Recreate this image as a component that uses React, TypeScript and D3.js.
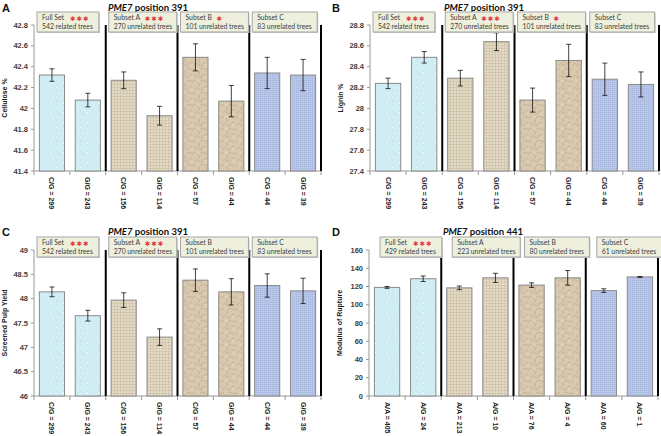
import React from 'react';
import * as d3 from 'd3';

const groupNames = ['Full Set', 'Subset A', 'Subset B', 'Subset C'];

const cellTicks = [41.4, 41.6, 41.8, 42, 42.2, 42.4, 42.6, 42.8];
const cgCats = ['C/G = 299', 'G/G = 243', 'C/G = 156', 'G/G = 114', 'C/G = 57', 'G/G = 44', 'C/G = 44', 'G/G = 39'];
const cellulose = [42.32, 42.08, 42.27, 41.93, 42.49, 42.07, 42.34, 42.32];
const celluloseErr = [0.06, 0.065, 0.08, 0.09, 0.13, 0.15, 0.15, 0.15];
const sets391 = ['542 related trees', '270 unrelated trees', '101 unrelated trees', '83 unrelated trees'];
const stars391 = [3, 3, 1, 0];

const ligninTicks = [27.4, 27.6, 27.8, 28, 28.2, 28.4, 28.6, 28.8];
const lignin = [28.24, 28.49, 28.29, 28.64, 28.08, 28.46, 28.28, 28.23];
const ligninErr = [0.05, 0.055, 0.075, 0.085, 0.115, 0.155, 0.155, 0.12];

const pulpTicks = [46, 46.5, 47, 47.5, 48, 48.5, 49];
const pulp = [48.14, 47.65, 47.97, 47.21, 48.38, 48.14, 48.27, 48.16];
const pulpErr = [0.1, 0.11, 0.15, 0.17, 0.23, 0.27, 0.24, 0.26];
const starsPulp = [3, 3, 0, 0];

const morTicks = [0, 20, 40, 60, 80, 100, 120, 140, 160];
const agCats = ['A/A = 405', 'A/G = 24', 'A/A = 213', 'A/G = 10', 'A/A = 76', 'A/G = 4', 'A/A = 60', 'A/G = 1'];
const mor = [119, 128.5, 118.5, 129.5, 121.5, 129.5, 115.5, 130.5];
const morErr = [1, 3, 2, 5, 2.5, 8, 2, 0.5];
const sets441 = ['429 related trees', '223 unrelated trees', '80 unrelated trees', '61 unrelated trees'];
const stars441 = [3, 0, 0, 0];

const FONT = '"Liberation Sans", Arial, sans-serif';
const BOXFONT = 'Lato, "Open Sans", sans-serif';
const patterns = ['pDrops', 'pBurlap', 'pPaper', 'pDenim'];

type PanelProps = {
  letter: string; ox: number; oy: number; x0: number; x1: number; top: number; bottom: number;
  ticks: number[]; values: number[]; errs: number[]; cats: string[]; sets: string[]; stars: number[];
  title: string; ylabel: string; boxInset: number;
};

function Panel(p: PanelProps) {
  const y = d3.scaleLinear().domain([p.ticks[0], p.ticks[p.ticks.length - 1]]).range([p.bottom, p.top]);
  const x = d3.scaleBand<number>().domain(p.values.map((_, i) => i)).range([p.x0, p.x1]).paddingInner(0.3).paddingOuter(0.15);
  const step = x.step();
  const bw = x.bandwidth();
  const boxTop = p.top - 13;
  return (
    <g>
      <text x={p.ox + 2} y={p.oy + 12} fontFamily={FONT} fontWeight="bold" fontSize={11} fill="#111">{p.letter}</text>
      <text x={p.x0 + 114} y={p.oy + 11} textAnchor="middle" fontFamily={BOXFONT} fontWeight="bold" fontSize={9.5} fill="#111">
        <tspan fontStyle="italic">PME7</tspan> {p.title}
      </text>
      {/* y axis */}
      <line x1={p.x0} x2={p.x0} y1={p.top} y2={p.bottom} stroke="#999" strokeWidth={1} />
      {p.ticks.map((t, i) => (
        <g key={i}>
          <line x1={p.x0 - 3} x2={p.x0} y1={y(t)} y2={y(t)} stroke="#999" />
          <text x={p.x0 - 6} y={y(t)} dy="0.35em" textAnchor="end" fontFamily={FONT} fontWeight="bold" fontSize={7.5} fill="#404040">{String(t)}</text>
        </g>
      ))}
      <text transform={`translate(${p.x0 - 29},${(p.top + p.bottom) / 2}) rotate(-90)`} textAnchor="middle" dy="0.35em"
        fontFamily={FONT} fontWeight="bold" fontSize={7} fill="#222">{p.ylabel}</text>
      {/* x axis */}
      <line x1={p.x0} x2={p.x1} y1={p.bottom} y2={p.bottom} stroke="#999" />
      {d3.range(p.values.length + 1).map(i => (
        <line key={i} x1={p.x0 + i * step} x2={p.x0 + i * step} y1={p.bottom} y2={p.bottom + 4} stroke="#999" />
      ))}
      {/* bars */}
      {p.values.map((v, i) => (
        <rect key={i} x={x(i)!} y={y(v)} width={bw} height={p.bottom - y(v)}
          fill={`url(#${patterns[Math.floor(i / 2)]})`} stroke="#8a8a8a" strokeWidth={1} />
      ))}
      {/* error bars */}
      {p.values.map((v, i) => {
        const cx = x(i)! + bw / 2;
        const hi = y(v + p.errs[i]);
        const lo = y(v - p.errs[i]);
        return (
          <g key={i} stroke="#111" strokeWidth={0.8}>
            <line x1={cx} x2={cx} y1={hi} y2={lo} />
            <line x1={cx - 2.5} x2={cx + 2.5} y1={hi} y2={hi} />
            <line x1={cx - 2.5} x2={cx + 2.5} y1={lo} y2={lo} />
          </g>
        );
      })}
      {/* category labels */}
      {p.cats.map((c, i) => (
        <text key={i} transform={`translate(${x(i)! + bw / 2},${p.bottom + 6}) rotate(90)`} dy="0.35em"
          fontFamily={FONT} fontWeight="bold" fontSize={7} fill="#222">{c}</text>
      ))}
      {/* separators */}
      {d3.range(1, 5).map(g => (
        <line key={g} x1={p.x0 + g * 2 * step} x2={p.x0 + g * 2 * step} y1={p.top} y2={p.bottom} stroke="#000" strokeWidth={2} />
      ))}
      {/* group boxes */}
      {groupNames.map((gname, g) => {
        const bx = p.x0 + g * 2 * step + p.boxInset;
        const w = p.sets[g].length * 3.05 + 10;
        const labelW = gname === 'Full Set' ? 23 : 26;
        return (
          <g key={g}>
            <rect x={bx + 1} y={boxTop + 1} width={w} height={20} fill="#c8c8c8" />
            <rect x={bx} y={boxTop} width={w} height={20} fill="#eef0dd" stroke="#a5a5a5" strokeWidth={1} />
            <text x={bx + 5} y={boxTop + 8} fontFamily={BOXFONT} fontSize={6.8} fill="#404040">{gname}</text>
            {p.stars[g] > 0 && (
              <text x={bx + 5 + labelW + 5} y={boxTop + 8.5} fontFamily='"DejaVu Sans", sans-serif' fontSize={6.5}
                fill="#e0393b" letterSpacing={1}>{'✱'.repeat(p.stars[g])}</text>
            )}
            <text x={bx + 5} y={boxTop + 17} fontFamily={BOXFONT} fontSize={6.8} fill="#404040">{p.sets[g]}</text>
          </g>
        );
      })}
    </g>
  );
}

export default function App() {
  return (
    <svg width={661} height={436} style={{ position: 'absolute', left: 0, top: 0, background: '#fff' }}>
      <defs>
        <pattern id="pDrops" width={12} height={10} patternUnits="userSpaceOnUse">
          <rect width={12} height={10} fill="#d2eef5" />
          <circle cx={3} cy={3} r={1.8} fill="#e6f7fb" stroke="#b2dbe6" strokeWidth={0.5} />
          <circle cx={9} cy={7.5} r={1.4} fill="#e6f7fb" stroke="#b2dbe6" strokeWidth={0.5} />
          <circle cx={8.5} cy={1.5} r={0.7} fill="#bfe3ec" />
        </pattern>
        <pattern id="pBurlap" width={3} height={3} patternUnits="userSpaceOnUse">
          <rect width={3} height={3} fill="#e3dbc6" />
          <path d="M0 0.5H3M0.5 0V3" stroke="#cdc2a6" strokeWidth={0.7} />
        </pattern>
        <pattern id="pPaper" width={14} height={12} patternUnits="userSpaceOnUse">
          <rect width={14} height={12} fill="#d8c9ae" />
          <path d="M0 3L5 6L9 2L14 5M2 12L6 8L11 10L14 8M3 0L4 3" stroke="#b9a583" strokeWidth={0.6} fill="none" />
          <path d="M1 8L4 10M8 6L12 3" stroke="#ebe0cb" strokeWidth={0.6} fill="none" />
        </pattern>
        <pattern id="pDenim" width={2} height={2} patternUnits="userSpaceOnUse">
          <rect width={2} height={2} fill="#b8c6e8" />
          <rect width={1} height={1} fill="#a3b3dc" />
        </pattern>
      </defs>
      <Panel letter="A" ox={0} oy={0} x0={34} x1={321} top={25} bottom={171} ticks={cellTicks} values={cellulose}
        errs={celluloseErr} cats={cgCats} sets={sets391} stars={stars391} title="position 391" ylabel="Cellulose %" boxInset={3} />
      <Panel letter="B" ox={330} oy={0} x0={370} x1={659} top={25} bottom={171} ticks={ligninTicks} values={lignin}
        errs={ligninErr} cats={cgCats} sets={sets391} stars={stars391} title="position 391" ylabel="Lignin %" boxInset={3} />
      <Panel letter="C" ox={0} oy={224} x0={34} x1={321} top={250} bottom={396} ticks={pulpTicks} values={pulp}
        errs={pulpErr} cats={cgCats} sets={sets391} stars={starsPulp} title="position 391" ylabel="Screened Pulp Yield" boxInset={3} />
      <Panel letter="D" ox={330} oy={224} x0={369} x1={658} top={250} bottom={396} ticks={morTicks} values={mor}
        errs={morErr} cats={agCats} sets={sets441} stars={stars441} title="position 441" ylabel="Modulus of Rupture" boxInset={11} />
    </svg>
  );
}
